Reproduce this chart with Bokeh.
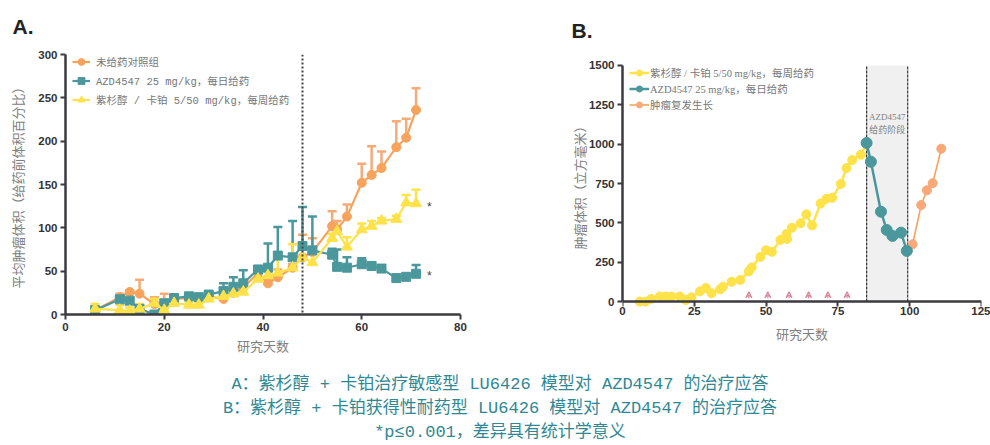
from bokeh.plotting import figure
from bokeh.models import (ColumnDataSource, Whisker, TeeHead, Legend, LegendItem,
                          Span, BoxAnnotation, Label, Arrow, VeeHead, Div, FixedTicker,
                          Title, LinearAxis)
from bokeh.layouts import row, column
from bokeh.core.properties import value
from bokeh.embed import file_html
from bokeh.resources import INLINE

# ---------------- Panel A: relative tumour volume (% of pre-dose) ----------------
days_a = [6, 11, 13, 15, 18, 20, 22, 25, 27, 29, 32, 34, 36, 39, 41, 43, 46, 48, 50,
          54, 55, 57, 60, 62, 64, 67, 69, 71]

control_mean = [5, 20, 26, 24, 12, 12, 18, 19, 19, 21, 18, 25, 31, 48, 36, 43, 54, 66, 72,
                102, 98, 113, 152, 161, 169, 193, 204, 236]
control_upper = [8, 24, 28, 40, 20, 24, 21, 22, 22, 23, 20, 28, 35, 52, 40, 52, 58, 92, 88,
                 119, 108, 127, 174, 194, 188, 223, 226, 261]

azd_mean = [5, 17.5, 16, 6.5, 0, 13, 19, 21, 20, 23, 27, 32, 36, 52, 54, 68, 66, 79, 74,
            69, 55, 54, 58, 56, 53, 42, 43.5, 47]
azd_upper = [6, 20, 18, 8, 1, 15, 21, 23, 22, 25.5, 36, 43, 51, 55, 82, 101, 108, 124, 113,
             76, 75, 66, 65, 58, 55, 44, 46, 57]

pc_mean = [6.5, 5, 4, 6.5, 13, 5, 13, 11, 11, 18, 21, 24, 26, 41, 45, 48, 54, 66, 60,
           88, 96, 78, 98, 102, 108, 110, 129, 128]
pc_upper = [12, 11, 8, 12, 18, 8, 15, 14, 14, 20, 24, 27, 33, 48, 54, 67, 81, 82, 70,
            93, 102, 89, 105, 108, 111, 114, 138, 144]

star_x = [73.2, 73.2]
star_y = [124, 44]

legend_a = ["未给药对照组", "AZD4547 25 mg/kg，每日给药", "紫杉醇 / 卡铂 5/50 mg/kg，每周给药"]

# ---------------- Panel B: tumour volume (mm³) ----------------
days_pc_b = [6, 8, 10, 13, 15, 17, 20, 22, 24, 27, 29, 31, 34, 35, 38, 41, 44, 45, 48, 50,
             52, 55, 57.3, 57.1, 59, 62, 64, 66, 69, 71, 73, 76, 78, 80, 83, 85]
vol_pc_b = [0, 0, 17, 32, 32, 32, 32, 10, 27, 65, 86, 53, 78, 95, 126, 137, 192, 217, 284, 326,
            316, 392, 398, 430, 469, 497, 554, 484, 623, 653, 659, 747, 848, 899, 933, 1008]

days_azd_b = [85, 86.5, 90, 92, 94, 97, 99]
vol_azd_b = [1008, 888, 571, 455, 417, 438, 322]

days_regrow_b = [99, 101, 104, 106, 108, 111]
vol_regrow_b = [322, 364, 613, 707, 752, 971]

dose_days_b = [44, 50.6, 58, 64.8, 71.5, 78.2]
azd_phase = [85, 99.3]

legend_b = ["紫杉醇 / 卡铂 5/50 mg/kg，每周给药", "AZD4547 25 mg/kg，每日给药", "肿瘤复发生长"]

captions = ["A：紫杉醇 + 卡铂治疗敏感型 LU6426 模型对 AZD4547 的治疗应答",
            "B：紫杉醇 + 卡铂获得性耐药型 LU6426 模型对 AZD4547 的治疗应答",
            "*p≤0.001，差异具有统计学意义"]

ORANGE = "#f7a35c"
ORANGE_ERR = "#f5ab78"
TEAL = "#4a979c"
YELLOW = "#fde24a"
AXIS = "#3a3a40"
LABEL_GRAY = "#808080"
MONO = "'Liberation Mono', 'Noto Sans CJK SC'"
SERIF = "'Liberation Serif', 'Noto Sans CJK SC'"
CJK = "'Noto Sans CJK SC'"


def style_axis(ax):
    ax.axis_line_color = AXIS
    ax.axis_line_width = 2.5
    ax.major_tick_line_color = AXIS
    ax.major_tick_line_width = 2
    ax.major_tick_in = 0
    ax.major_tick_out = 5
    ax.minor_tick_line_color = None
    ax.major_label_standoff = 3
    ax.major_label_text_font = "Liberation Sans"
    ax.major_label_text_font_style = "bold"
    ax.major_label_text_font_size = "11.5px"
    ax.major_label_text_color = "#333333"
    ax.axis_label_text_font = CJK
    ax.axis_label_text_font_style = "normal"
    ax.axis_label_text_font_size = "13px"
    ax.axis_label_text_color = LABEL_GRAY


def style_plot(p):
    style_axis(p.xaxis[0])
    style_axis(p.yaxis[0])
    p.xgrid.grid_line_color = None
    p.ygrid.grid_line_color = None
    p.outline_line_color = None
    p.background_fill_color = "white"
    p.border_fill_color = "white"


def panel_letter(text, offset, standoff):
    return Title(text=text, align="left", vertical_align="top", offset=offset,
                 standoff=standoff, text_font="Liberation Sans", text_font_style="bold",
                 text_font_size="21px", text_color="#222222")


# ---------- Panel A ----------
pa = figure(width=480, height=360, x_range=(0, 80), y_range=(0, 300),
            output_backend="svg", toolbar_location=None,
            min_border_left=65, min_border_right=20, min_border_top=52, min_border_bottom=46)
pa.title = panel_letter("A.", -53, 29)
style_plot(pa)
pa.xaxis.ticker = FixedTicker(ticks=[0, 20, 40, 60, 80])
pa.yaxis.ticker = FixedTicker(ticks=[0, 50, 100, 150, 200, 250, 300])
pa.xaxis.axis_label = "研究天数"
pa.yaxis.axis_label = "平均肿瘤体积（给药前体积百分比）"
pa.xaxis.axis_label_standoff = 2
pa.yaxis.axis_label_standoff = 8

pa.add_layout(Span(location=48, dimension="height", line_color="#444444",
                   line_width=2, line_dash="2 2"))

series_a = [
    (control_mean, control_upper, ORANGE, ORANGE_ERR, "circle", 9),
    (azd_mean, azd_upper, TEAL, TEAL, "square", 9),
    (pc_mean, pc_upper, YELLOW, YELLOW, "triangle", 11),
]
items_a = []
for (mean, upper, col, ecol, marker, size), name in zip(series_a, legend_a):
    src = ColumnDataSource(dict(x=days_a, y=mean, up=upper))
    pa.add_layout(Whisker(source=src, base="x", lower="y", upper="up",
                          line_color=ecol, line_width=2.5, lower_head=None,
                          upper_head=TeeHead(size=9, line_color=ecol, line_width=2.5)))
    ln = pa.line("x", "y", source=src, line_color=col, line_width=2.2)
    sc = pa.scatter("x", "y", source=src, marker=marker, size=size,
                    fill_color=col, line_color=col)
    items_a.append(LegendItem(label=name, renderers=[ln, sc]))

pa.text(x=star_x, y=star_y, text=["*", "*"], text_font=value("Liberation Sans"),
        text_font_size="12px", text_color="#444444", text_baseline="middle")

# legend offset is measured from the frame's bottom-left corner
leg_a = Legend(items=items_a, location=(7, 206), background_fill_alpha=0,
               border_line_color=None, label_text_font=MONO, label_text_font_size="10.5px",
               label_text_color="#777777", glyph_width=18, glyph_height=17,
               label_height=17, spacing=2, padding=0, margin=0, label_standoff=6)
pa.add_layout(leg_a)

# ---------- Panel B ----------
# The frame shares its top/bottom with panel A; the y axis is bounded to 0..1500 and
# the x axis line is pinned at y = 0, with its tick labels carried by the bottom axis.
pb = figure(width=510, height=360, x_range=(0, 125), y_range=(-82, 1569.4),
            output_backend="svg", toolbar_location=None,
            min_border_left=142, min_border_right=9, min_border_top=52, min_border_bottom=46)
pb.title = panel_letter("B.", -51, 22)
style_plot(pb)
ticks_b_x = [0, 25, 50, 75, 100, 125]
pb.xaxis.ticker = FixedTicker(ticks=ticks_b_x)
pb.yaxis.ticker = FixedTicker(ticks=[0, 250, 500, 750, 1000, 1250, 1500])
pb.yaxis.bounds = (0, 1500)
pb.yaxis.axis_label = "肿瘤体积（立方毫米）"
pb.yaxis.axis_label_standoff = -3

# bottom axis: labels only
pb.xaxis.axis_line_color = None
pb.xaxis.major_tick_line_color = None
pb.xaxis.major_tick_out = 0
pb.xaxis.major_label_standoff = -8
pb.xaxis.axis_label = "研究天数"
pb.xaxis.axis_label_standoff = 6

# axis line and ticks pinned at y = 0 (its own labels are not drawn)
zero_axis = LinearAxis(ticker=FixedTicker(ticks=ticks_b_x), fixed_location=0)
style_axis(zero_axis)
zero_axis.major_label_text_color = None
zero_axis.major_label_text_font_size = "1px"
zero_axis.major_label_standoff = 0
pb.add_layout(zero_axis, "below")

pb.add_layout(BoxAnnotation(left=azd_phase[0], right=azd_phase[1], bottom=0, top=1500,
                            fill_color="#f0f0f0", fill_alpha=1, line_color=None,
                            level="underlay"))
pb.segment(x0=azd_phase, y0=[0, 0], x1=azd_phase, y1=[1500, 1500],
           line_color="#333333", line_width=1.2, line_dash="3 1")
mid = (azd_phase[0] + azd_phase[1]) / 2
pb.add_layout(Label(x=mid, y=1175, text="AZD4547", text_align="center",
                    text_baseline="middle", text_font="Liberation Serif",
                    text_font_size="9px", text_color="#808080"))
pb.add_layout(Label(x=mid, y=1092, text="给药阶段", text_align="center",
                    text_baseline="middle", text_font="Noto Sans CJK SC",
                    text_font_size="9px", text_color="#808080"))

arrow_src = ColumnDataSource(dict(x=dose_days_b, y0=[22] * len(dose_days_b),
                                  y1=[62] * len(dose_days_b)))
pb.add_layout(Arrow(source=arrow_src, x_start="x", y_start="y0", x_end="x", y_end="y1",
                    line_color="#d88a9c", line_width=1.2,
                    end=VeeHead(size=6, line_color="#d88a9c", line_width=1.2,
                                fill_color=None)))

l1 = pb.line(days_pc_b, vol_pc_b, line_color=YELLOW, line_width=2.5)
s1 = pb.scatter(days_pc_b, vol_pc_b, size=9, fill_color=YELLOW, line_color=YELLOW)
l3 = pb.line(days_regrow_b, vol_regrow_b, line_color=ORANGE, line_width=1.6)
s3 = pb.scatter(days_regrow_b[1:], vol_regrow_b[1:], size=9, fill_color="#f9a878",
                line_color="#f9a878")
l2 = pb.line(days_azd_b, vol_azd_b, line_color=TEAL, line_width=2.5)
s2 = pb.scatter(days_azd_b, vol_azd_b, size=11, fill_color=TEAL, line_color=TEAL)

leg_b = Legend(items=[LegendItem(label=legend_b[0], renderers=[l1, s1]),
                      LegendItem(label=legend_b[1], renderers=[l2, s2]),
                      LegendItem(label=legend_b[2], renderers=[l3, s3])],
               location=(7, 202), background_fill_alpha=0, border_line_color=None,
               label_text_font=SERIF, label_text_font_size="10.5px",
               label_text_color="#777777", glyph_width=20, glyph_height=15,
               label_height=15, spacing=1, padding=0, margin=0, label_standoff=1)
pb.add_layout(leg_b)

cap = Div(text="<br>".join(captions), width=990, height=85,
          styles={"text-align": "center", "color": "#2f8893", "font-family": MONO,
                  "font-size": "17px", "line-height": "24px", "width": "990px",
                  "padding-top": "8px"})

layout = column(row(pa, pb, spacing=0), cap, spacing=0)
open("out.html", "w").write(file_html(layout, INLINE))
